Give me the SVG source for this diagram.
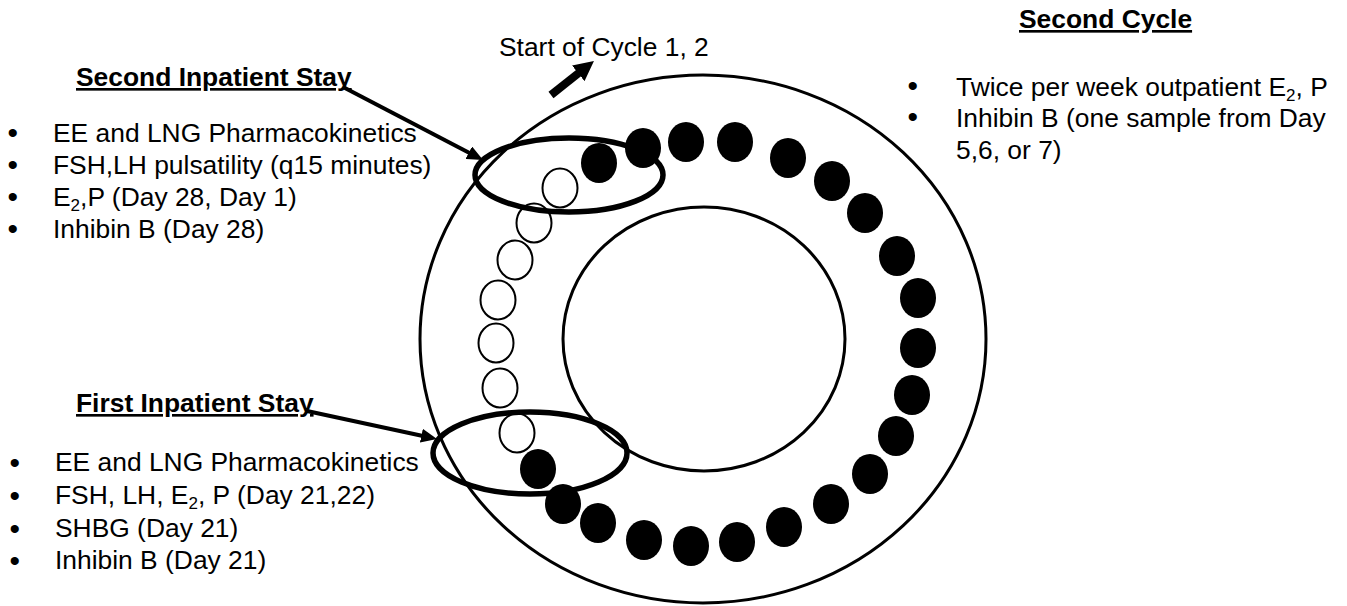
<svg xmlns="http://www.w3.org/2000/svg" width="1347" height="606" viewBox="0 0 1347 606">
<style>
text{font-family:"Liberation Sans",Arial,sans-serif;font-size:26.4px;fill:#000}
.h{font-weight:bold;text-decoration:underline}
.b{font-size:30px}
.ring{fill:none;stroke:#000;stroke-width:3}
.on{fill:#000}
.off{fill:#fff;stroke:#000;stroke-width:2}
.sel{fill:none;stroke:#000;stroke-width:5.5}
.arr{stroke:#000;stroke-width:4;fill:none}
.big{stroke:#000;stroke-width:8;fill:none}
</style>
<defs>
<marker id="ah" markerUnits="userSpaceOnUse" markerWidth="16" markerHeight="14" refX="4" refY="7" orient="auto"><path d="M0,0 L16,7 L0,14 z" fill="#000"/></marker>
<marker id="ahb" markerUnits="userSpaceOnUse" markerWidth="20" markerHeight="20" refX="4" refY="10" orient="auto"><path d="M0,0 L20,10 L0,20 z" fill="#000"/></marker>
</defs>
<rect width="1347" height="606" fill="#fff"/>
<g id="pack">
<ellipse class="ring" cx="703" cy="339" rx="283" ry="264"/>
<ellipse class="ring" cx="704" cy="339" rx="141" ry="132"/>
</g>
<g id="pills">
<ellipse class="off" cx="560" cy="188" rx="17.5" ry="19.5"/>
<ellipse class="off" cx="534" cy="223" rx="17.5" ry="19.5"/>
<ellipse class="off" cx="515" cy="260" rx="17.5" ry="19.5"/>
<ellipse class="off" cx="498" cy="300" rx="17.5" ry="19.5"/>
<ellipse class="off" cx="496" cy="343" rx="17.5" ry="19.5"/>
<ellipse class="off" cx="500" cy="388" rx="17.5" ry="19.5"/>
<ellipse class="off" cx="517" cy="433" rx="17.5" ry="19.5"/>
<ellipse class="on" cx="599" cy="163" rx="18" ry="20"/>
<ellipse class="on" cx="643" cy="148" rx="18" ry="20"/>
<ellipse class="on" cx="686" cy="142" rx="18" ry="20"/>
<ellipse class="on" cx="735" cy="142" rx="18" ry="20"/>
<ellipse class="on" cx="788" cy="158" rx="18" ry="20"/>
<ellipse class="on" cx="832" cy="181" rx="18" ry="20"/>
<ellipse class="on" cx="865" cy="213" rx="18" ry="20"/>
<ellipse class="on" cx="897" cy="256" rx="18" ry="20"/>
<ellipse class="on" cx="918" cy="298" rx="18" ry="20"/>
<ellipse class="on" cx="918" cy="348" rx="18" ry="20"/>
<ellipse class="on" cx="912" cy="395" rx="18" ry="20"/>
<ellipse class="on" cx="896" cy="436" rx="18" ry="20"/>
<ellipse class="on" cx="870" cy="474" rx="18" ry="20"/>
<ellipse class="on" cx="831" cy="504" rx="18" ry="20"/>
<ellipse class="on" cx="784" cy="527" rx="18" ry="20"/>
<ellipse class="on" cx="737" cy="542" rx="18" ry="20"/>
<ellipse class="on" cx="691" cy="546" rx="18" ry="20"/>
<ellipse class="on" cx="644" cy="540" rx="18" ry="20"/>
<ellipse class="on" cx="598" cy="523" rx="18" ry="20"/>
<ellipse class="on" cx="563" cy="504" rx="18" ry="20"/>
<ellipse class="on" cx="538" cy="469" rx="18" ry="20"/>
</g>
<g id="second-stay-ring"><ellipse class="sel" cx="569" cy="175" rx="94" ry="37"/></g>
<g id="first-stay-ring"><ellipse class="sel" cx="530" cy="453" rx="97" ry="41"/></g>
<g id="connectors">
<line class="arr" x1="343" y1="87" x2="472.4" y2="154.5" marker-end="url(#ah)"/>
<line class="arr" x1="307" y1="411" x2="425.3" y2="436.5" marker-end="url(#ah)"/>
<line class="big" x1="551" y1="95" x2="581.4" y2="70.9" marker-end="url(#ahb)"/>
</g>
<g id="start-label"><text x="499" y="56">Start of Cycle 1, 2</text></g>
<g id="second-stay">
<text class="h" x="76" y="86">Second Inpatient Stay</text>
<text y="142"><tspan class="b" x="7.6" dy="1">•</tspan><tspan x="53" dy="-1">EE and LNG Pharmacokinetics</tspan></text>
<text y="174"><tspan class="b" x="7.6" dy="1">•</tspan><tspan x="53" dy="-1">FSH,LH pulsatility (q15 minutes)</tspan></text>
<text y="206"><tspan class="b" x="7.6" dy="1">•</tspan><tspan x="53" dy="-1">E</tspan><tspan font-size="17" dy="5">2</tspan><tspan dy="-5">,P (Day 28, Day 1)</tspan></text>
<text y="238"><tspan class="b" x="7.6" dy="1">•</tspan><tspan x="53" dy="-1">Inhibin B (Day 28)</tspan></text>
</g>
<g id="first-stay">
<text class="h" x="76" y="412">First Inpatient Stay</text>
<text y="471"><tspan class="b" x="9.5" dy="2">•</tspan><tspan x="55" dy="-2">EE and LNG Pharmacokinetics</tspan></text>
<text y="504"><tspan class="b" x="9.5" dy="2">•</tspan><tspan x="55" dy="-2">FSH, LH, E</tspan><tspan font-size="17" dy="5">2</tspan><tspan dy="-5">, P (Day 21,22)</tspan></text>
<text y="537"><tspan class="b" x="9.5" dy="2">•</tspan><tspan x="55" dy="-2">SHBG (Day 21)</tspan></text>
<text y="569"><tspan class="b" x="9.5" dy="2">•</tspan><tspan x="55" dy="-2">Inhibin B (Day 21)</tspan></text>
</g>
<g id="second-cycle">
<text class="h" x="1019" y="28">Second Cycle</text>
<text y="96"><tspan class="b" x="907.5" dy="0">•</tspan><tspan x="956">Twice per week outpatient E</tspan><tspan font-size="17" dy="5">2</tspan><tspan dy="-5">, P</tspan></text>
<text y="127"><tspan class="b" x="907.5">•</tspan><tspan x="956">Inhibin B (one sample from Day</tspan></text>
<text x="956" y="159">5,6, or 7)</text>
</g>
</svg>
